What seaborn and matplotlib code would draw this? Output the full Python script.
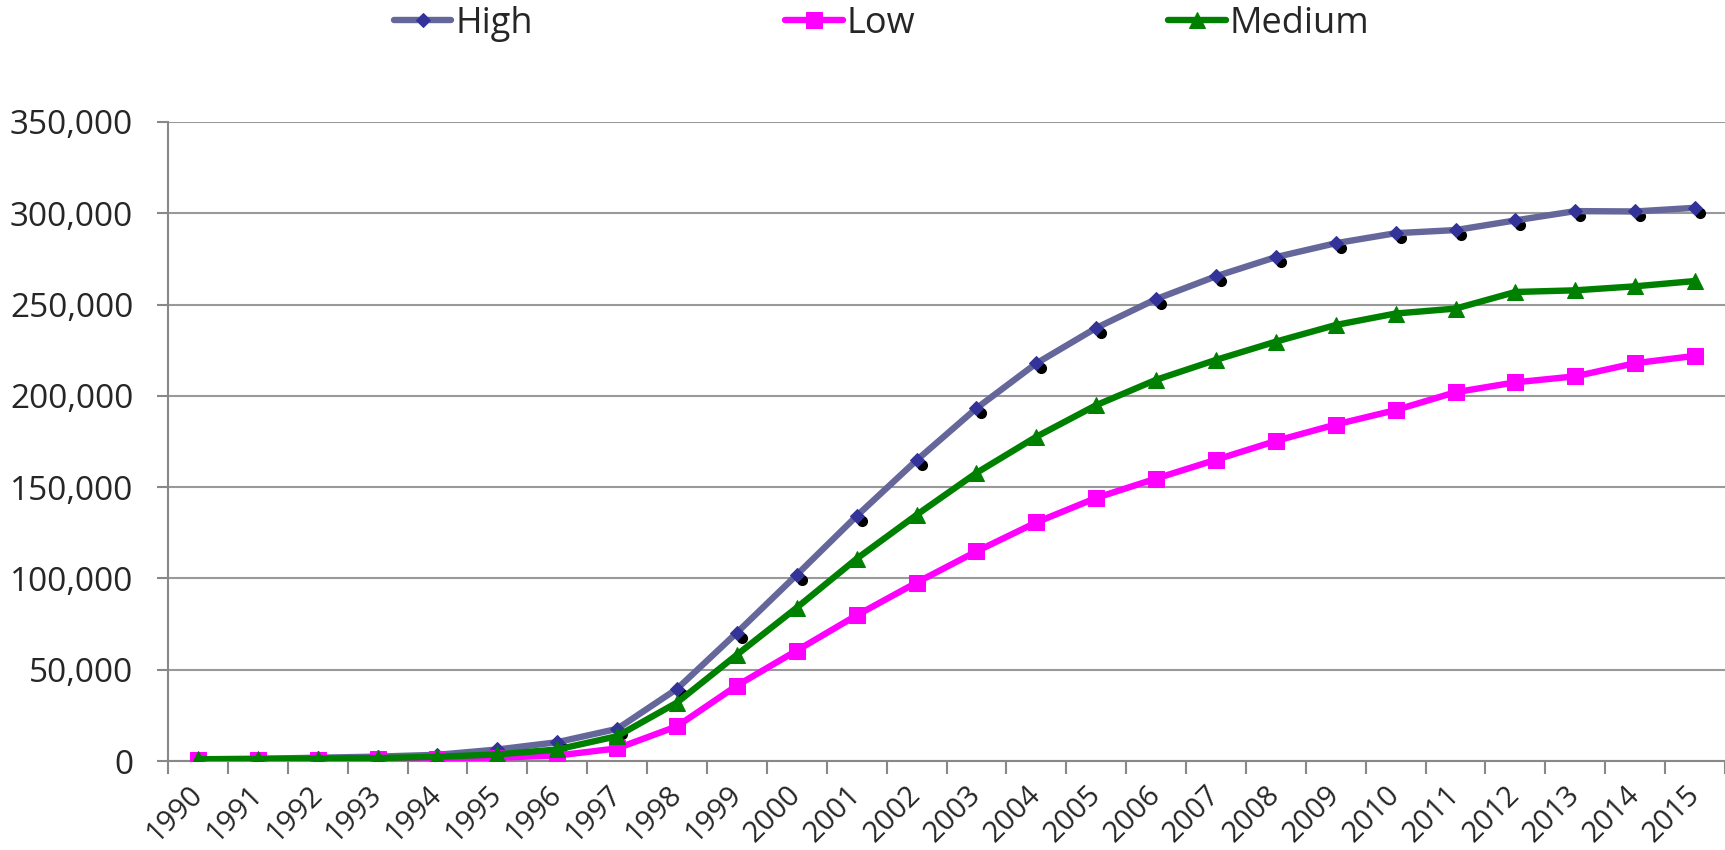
import matplotlib
matplotlib.use("Agg")
import matplotlib.pyplot as plt
import matplotlib.transforms as mtransforms
from matplotlib.ticker import FuncFormatter, FixedLocator
import seaborn as sns
import pandas as pd
import numpy as np

years = [str(y) for y in range(1990, 2016)]
high = [900, 1200, 1800, 2400, 3400, 6300, 10300, 17600, 39500, 70300,
        102000, 134200, 164700, 193200, 217800, 237200, 253000, 265500,
        276000, 283600, 289100, 290800, 296100, 301200, 301000, 303000]
low = [400, 500, 700, 900, 1300, 1800, 3000, 6900, 19000, 41300,
       60500, 79800, 97700, 114800, 130700, 144100, 154700, 165000,
       175300, 184300, 192200, 202000, 207400, 210700, 217900, 221900]
medium = [1000, 1100, 1300, 1600, 2300, 3600, 6300, 13600, 32000, 58200,
          84000, 110800, 134800, 157800, 177600, 194900, 208800, 219700,
          229700, 238800, 245100, 247800, 256900, 257800, 260000, 262900]

series_names = ["High", "Low", "Medium"]
series_vals = [high, low, medium]
line_colors = {"High": "#65679A", "Low": "#FF00FF", "Medium": "#008000"}
marker_colors = {"High": "#333399", "Low": "#FF00FF", "Medium": "#008000"}
markers = {"High": "D", "Low": "s", "Medium": "^"}
msizes = {"High": 7.5, "Low": 11.5, "Medium": 11.5}

sns.set_theme(style="white")
plt.rcParams["font.family"] = ["Open Sans", "DejaVu Sans"]

fig = plt.figure(figsize=(17.25, 8.5), dpi=100)
ax = fig.add_axes([168 / 1725, 1 - 761 / 850, 1 - 168 / 1725, (761 - 122) / 850])

x = np.arange(len(years))
handles = []
for name, vals in zip(series_names, series_vals):
    df = pd.DataFrame({"x": x, "y": vals})
    if name == "High":
        shadow = mtransforms.offset_copy(ax.transData, fig=fig, x=5, y=-5, units="dots")
        ax.plot(x, vals, linestyle="none", marker="o", markersize=7,
                color="black", transform=shadow, zorder=2, label="_nolegend_")
    sns.lineplot(data=df, x="x", y="y", ax=ax, color=line_colors[name],
                 linewidth=4.6, marker=markers[name], markersize=msizes[name],
                 markerfacecolor=marker_colors[name],
                 markeredgecolor=marker_colors[name], label=name, zorder=3,
                 legend=False)
    handles.append(ax.lines[-1])

ax.set_xlim(-0.5, len(years) - 0.5)
ax.set_ylim(0, 350000)
ax.set_xlabel("")
ax.set_ylabel("")

ax.set_xticks(x)
ax.set_xticklabels(years, rotation=45, ha="right", va="center",
                   rotation_mode="anchor", fontsize=21)
shift = mtransforms.ScaledTranslation(10 / 100, 0, fig.dpi_scale_trans)
for lbl in ax.get_xticklabels():
    lbl.set_transform(lbl.get_transform() + shift)
ax.xaxis.set_minor_locator(FixedLocator(np.arange(-0.5, len(years), 1.0)))
ax.tick_params(axis="x", which="major", length=0, pad=21)
ax.tick_params(axis="x", which="minor", length=9, width=1.5, color="#888888", direction="out", bottom=True)

ax.set_yticks(np.arange(0, 350001, 50000))
ax.yaxis.set_major_formatter(FuncFormatter(lambda v, p: f"{int(v):,}"))
ax.tick_params(axis="y", which="major", length=8, width=1.5, color="#888888", direction="out", left=True, labelsize=24, pad=17)

ax.grid(axis="y", color="#999999", linewidth=1.5)
ax.grid(axis="x", visible=False)
ax.set_axisbelow(True)
for s in ["top", "right"]:
    ax.spines[s].set_visible(False)
for s in ["left", "bottom"]:
    ax.spines[s].set_color("#888888")
    ax.spines[s].set_linewidth(1.5)

fig.legend(handles, series_names, loc="center", bbox_to_anchor=(0.511, 0.972),
           ncol=3, frameon=False, fontsize=26, handlelength=1.6,
           handletextpad=0.1, columnspacing=7.0)

fig.savefig("out.png", dpi=100)
